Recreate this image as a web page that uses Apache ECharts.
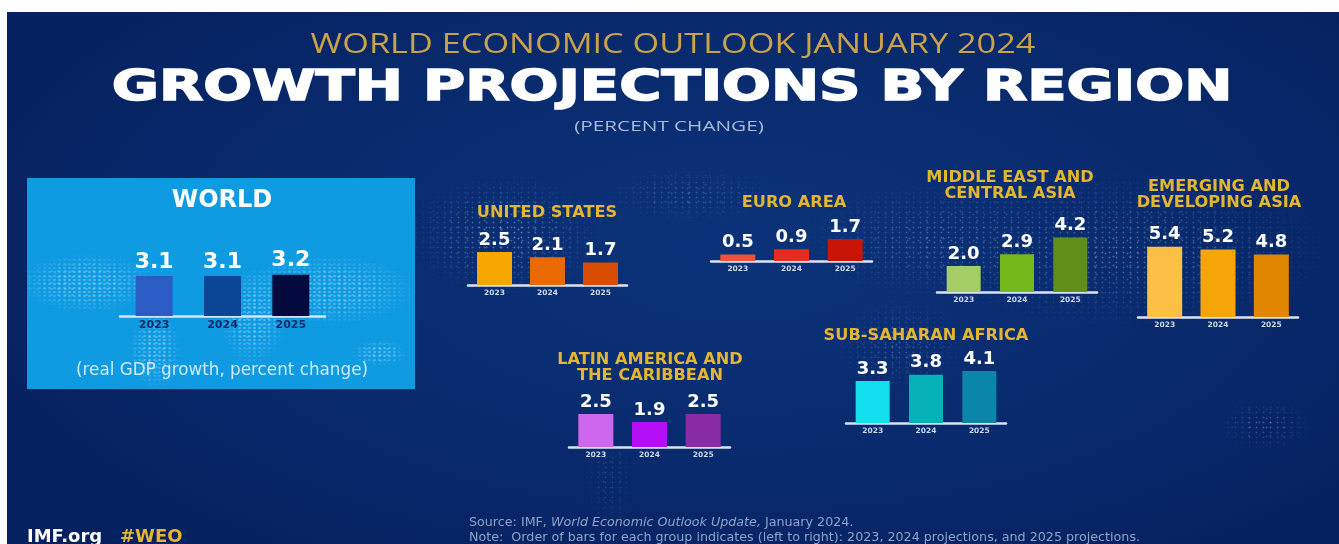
<!DOCTYPE html>
<html>
<head>
<meta charset="utf-8">
<title>Growth projections by region</title>
<script src="https://cdn.jsdelivr.net/npm/echarts@6/dist/echarts.min.js"></script>
<style>
  html, body { margin: 0; padding: 0; background: #fff; overflow: hidden; }
  #page { position: relative; width: 1339px; height: 544px; overflow: hidden; }
  .layer { position: absolute; }
  #bg {
    left: 7px; top: 12px; right: 0; bottom: 0;
    background: radial-gradient(ellipse 60% 70% at 55% 45%, #0b3279 0%, #092b6e 55%, #06215f 100%);
  }
  #dots {
    left: 0; top: 0; right: 0; bottom: 0;
    background-image:
      radial-gradient(circle, rgba(205,222,255,.5) .6px, transparent 1.2px),
      radial-gradient(circle, rgba(205,222,255,.4) .6px, transparent 1.2px),
      radial-gradient(circle, rgba(205,222,255,.35) .8px, transparent 1.4px);
    background-size: 7px 5px, 11px 13px, 17px 9px;
    -webkit-mask-image:
      radial-gradient(ellipse 100px 62px at 505px 235px, #000 0, transparent 100%),
      radial-gradient(ellipse 90px 28px at 690px 195px, rgba(0,0,0,.6) 0, transparent 100%),
      radial-gradient(ellipse 130px 60px at 930px 240px, rgba(0,0,0,.7) 0, transparent 100%),
      radial-gradient(ellipse 220px 80px at 1120px 250px, rgba(0,0,0,.8) 0, transparent 100%),
      radial-gradient(ellipse 70px 50px at 900px 345px, rgba(0,0,0,.6) 0, transparent 100%),
      radial-gradient(ellipse 26px 55px at 610px 480px, rgba(0,0,0,.4) 0, transparent 100%),
      radial-gradient(ellipse 48px 26px at 1265px 425px, rgba(0,0,0,.7) 0, transparent 100%);
  }
  #worldBox { left: 27px; top: 178px; width: 388px; height: 211px; background: #0f9be2; overflow: hidden; }
  #worldMap {
    left: 0; top: 0; right: 0; bottom: 0;
    background-image:
      radial-gradient(circle, rgba(255,255,255,.3) .9px, transparent 1.5px),
      radial-gradient(circle, rgba(255,255,255,.22) .9px, transparent 1.5px);
    background-size: 5px 4px, 7px 6px;
    -webkit-mask-image:
      radial-gradient(ellipse 70px 30px at 60px 105px, #000 40%, transparent 100%),
      radial-gradient(ellipse 26px 40px at 128px 172px, #000 40%, transparent 100%),
      radial-gradient(ellipse 34px 48px at 226px 140px, #000 40%, transparent 100%),
      radial-gradient(ellipse 90px 36px at 300px 112px, #000 40%, transparent 100%),
      radial-gradient(ellipse 28px 13px at 352px 175px, #000 40%, transparent 100%);
  }
  #chart { left: 0; top: 0; width: 1339px; height: 544px; }
</style>
</head>
<body>
<div id="page">
  <div id="bg" class="layer"></div>
  <div id="dots" class="layer"></div>
  <div id="worldBox" class="layer"><div id="worldMap" class="layer"></div></div>
  <div id="chart" class="layer"></div>
</div>
<script>
const years = ['2023', '2024', '2025']

const worldValues = [3.1, 3.1, 3.2]
const usValues = [2.5, 2.1, 1.7]
const euroValues = [0.5, 0.9, 1.7]
const middleEastValues = [2.0, 2.9, 4.2]
const asiaValues = [5.4, 5.2, 4.8]
const latamValues = [2.5, 1.9, 2.5]
const africaValues = [3.3, 3.8, 4.1]

const worldColors = ['#2a5cc4', '#0a4596', '#050a3e']
const usColors = ['#f6a800', '#e86a00', '#d94d00']
const euroColors = ['#f0503c', '#e42d20', '#c91408']
const middleEastColors = ['#a5cd66', '#74b81c', '#5f8f18']
const asiaColors = ['#fdc044', '#f5a508', '#e08600']
const latamColors = ['#cf66ee', '#b510f5', '#8a2ca8']
const africaColors = ['#12e0ee', '#06b2b8', '#0a86a8']

// left / baseline / width of each little chart
const panels = [
  { name: 'WORLD', values: worldValues, colors: worldColors, left: 120, base: 316, width: 205, max: 4, unit: 12.9, bar: 37, num: 22, yearSize: 11, yearColor: '#0a2a68' },
  { name: 'US', values: usValues, colors: usColors, left: 468, base: 285, width: 159, max: 3, unit: 13.2, bar: 35 },
  { name: 'EU', values: euroValues, colors: euroColors, left: 711, base: 261, width: 161, max: 3, unit: 13, bar: 35 },
  { name: 'ME', values: middleEastValues, colors: middleEastColors, left: 937, base: 292, width: 160, max: 5, unit: 13, bar: 34 },
  { name: 'ASIA', values: asiaValues, colors: asiaColors, left: 1138, base: 317, width: 160, max: 6, unit: 13, bar: 35 },
  { name: 'LATAM', values: latamValues, colors: latamColors, left: 569, base: 447, width: 161, max: 3, unit: 13.2, bar: 35 },
  { name: 'AFRICA', values: africaValues, colors: africaColors, left: 846, base: 423, width: 160, max: 5, unit: 12.7, bar: 34 }
]

const regionTitles = [
  { text: 'UNITED STATES', x: 547, y: 205 },
  { text: 'EURO AREA', x: 794, y: 195 },
  { text: 'MIDDLE EAST AND\nCENTRAL ASIA', x: 1010, y: 170 },
  { text: 'EMERGING AND\nDEVELOPING ASIA', x: 1219, y: 179 },
  { text: 'LATIN AMERICA AND\nTHE CARIBBEAN', x: 650, y: 352 },
  { text: 'SUB-SAHARAN AFRICA', x: 926, y: 328 }
]

const font = 'DejaVu Sans'
const grids = [], xAxes = [], yAxes = [], series = []

panels.forEach((p, i) => {
  const h = p.max * p.unit
  grids.push({ left: p.left, top: p.base - h, width: p.width, height: h })
  xAxes.push({
    gridIndex: i,
    type: 'category',
    data: years,
    axisLine: { lineStyle: { color: '#dbe4f4', width: 2.5 } },
    axisTick: { show: false },
    axisLabel: { color: p.yearColor || '#cdd7ea', fontFamily: font, fontWeight: 'bold', fontSize: p.yearSize || 7.5, margin: 4 }
  })
  yAxes.push({ gridIndex: i, type: 'value', min: 0, max: p.max, show: false })
  series.push({
    type: 'bar',
    xAxisIndex: i,
    yAxisIndex: i,
    barWidth: p.bar,
    data: p.values.map((v, k) => ({ value: v, itemStyle: { color: p.colors[k] } })),
    label: {
      show: true,
      position: 'top',
      distance: 3,
      color: '#fff',
      fontFamily: font,
      fontWeight: 'bold',
      fontSize: p.num || 18,
      formatter: o => o.value.toFixed(1)
    }
  })
})

const titles = regionTitles.map(t => ({
  text: t.text,
  left: t.x,
  top: t.y,
  padding: 0,
  textAlign: 'center',
  textStyle: { color: '#e3b530', fontFamily: font, fontWeight: 'bold', fontSize: 16.2, lineHeight: 16 }
}))

titles.push({
  text: 'WORLD', left: 222, top: 189, padding: 0, textAlign: 'center',
  textStyle: { color: '#fff', fontFamily: font, fontWeight: 'bold', fontSize: 24 }
})
titles.push({
  text: '(real GDP growth, percent change)', left: 222, top: 362, padding: 0, textAlign: 'center',
  textStyle: { color: '#cfe9fa', fontFamily: font, fontWeight: 'normal', fontSize: 16.8 }
})
titles.push({
  text: 'IMF.org', left: 27, top: 528, padding: 0,
  textStyle: { color: '#fff', fontFamily: font, fontWeight: 'bold', fontSize: 18 }
})
titles.push({
  text: '#WEO', left: 120, top: 528, padding: 0,
  textStyle: { color: '#e3b530', fontFamily: font, fontWeight: 'bold', fontSize: 18 }
})
titles.push({
  text: '{n|Source: IMF, }{i|World Economic Outlook Update,}{n| January 2024.}\n{n|Note:  Order of bars for each group indicates (left to right): 2023, 2024 projections, and 2025 projections.}',
  left: 469, top: 515, padding: 0,
  textStyle: { fontWeight: 'normal', lineHeight: 15, rich: {
    n: { color: '#8fa3c8', fontFamily: font, fontWeight: 'normal', fontSize: 12.7, lineHeight: 15 },
    i: { color: '#8fa3c8', fontFamily: font, fontWeight: 'normal', fontStyle: 'italic', fontSize: 12.7, lineHeight: 15 }
  } }
})

const myChart = echarts.init(document.getElementById('chart'), null, { renderer: 'canvas' })
myChart.setOption({
  backgroundColor: 'transparent',
  animation: false,
  title: titles,
  grid: grids,
  xAxis: xAxes,
  yAxis: yAxes,
  series: series,
  graphic: [{
    type: 'text',
    x: 672,
    y: 89,
    scaleX: 1.37,
    style: {
      text: 'GROWTH PROJECTIONS BY REGION',
      fill: '#fff',
      stroke: '#fff',
      lineWidth: 1.5,
      font: 'bold 42px "DejaVu Sans"',
      textAlign: 'center',
      textVerticalAlign: 'middle'
    }
  }, {
    type: 'text',
    x: 673,
    y: 45,
    scaleX: 1.225,
    style: {
      text: 'WORLD ECONOMIC OUTLOOK JANUARY 2024',
      fill: '#c9a24a',
      font: '28px "Open Sans"',
      textAlign: 'center',
      textVerticalAlign: 'middle'
    }
  }, {
    type: 'text',
    x: 669,
    y: 127,
    scaleX: 1.48,
    style: {
      text: '(PERCENT CHANGE)',
      fill: '#a9b8d6',
      font: '14px "Open Sans"',
      textAlign: 'center',
      textVerticalAlign: 'middle'
    }
  }]
})
</script>
</body>
</html>
